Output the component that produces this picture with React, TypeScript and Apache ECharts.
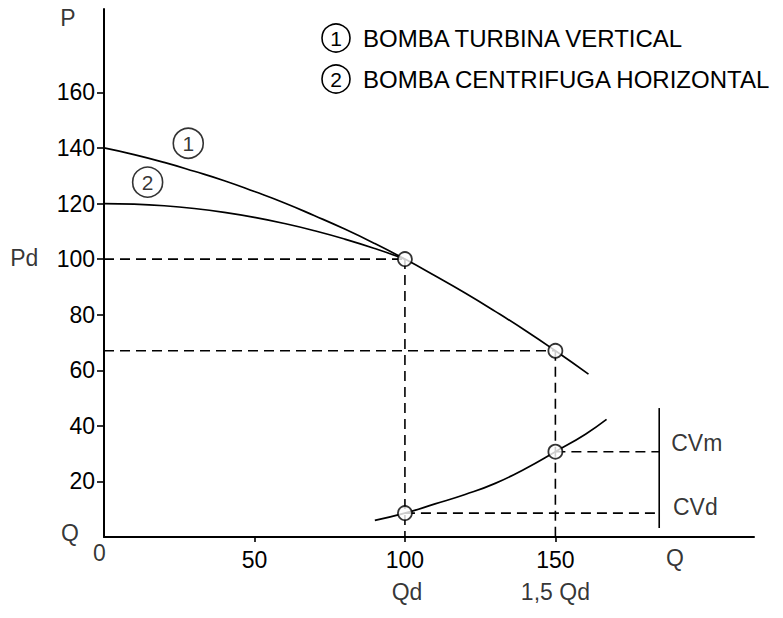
import React, { useEffect, useRef } from "react";
import * as echarts from "echarts";

const FONT = '"Liberation Sans", Arial, sans-serif';

// axis ticks
const xTicks = [50, 100, 150];
const yTicks = [20, 40, 60, 80, 100, 120, 140, 160];

// curve 1: bomba turbina vertical
const curve1Q = [0, 10, 20, 30, 40, 50, 60, 70, 80, 90, 100, 110, 120, 130, 140, 150, 161];
const curve1P = [140, 137.6, 134.8, 131.6, 128.2, 124.3, 120.2, 115.6, 110.8, 105.6, 100, 94, 87.8, 81.2, 74.3, 67, 58.6];

// curve 2: bomba centrifuga horizontal
const curve2Q = [0, 10, 20, 30, 40, 50, 60, 70, 80, 90, 100];
const curve2P = [120, 119.8, 119.2, 118.2, 116.8, 115, 112.8, 110.2, 107.2, 103.8, 100];

// lower curve (CV)
const cvQ = [90, 100, 110, 120, 130, 140, 150, 160, 167];
const cvP = [6, 8.6, 11.9, 15.3, 19.3, 24.6, 30.7, 37, 42.3];

// operating points
const pointQ = [100, 150, 100, 150];
const pointP = [100, 67, 8.6, 30.7];

// dashed guides [q1, p1, q2, p2]
const guides = [
  [0, 100, 100, 100],
  [100, 100, 100, 0],
  [0, 67, 150, 67],
  [150, 67, 150, 0],
  [150, 30.7, 184.5, 30.7],
  [100, 8.6, 184.5, 8.6],
];

// CV bracket
const bracket = [184.5, 46.4, 184.5, 3.2];

// curve number labels
const curveLabelNames = ["1", "2"];
const curveLabelQ = [28, 14.5];
const curveLabelP = [141.7, 127.7];

// text annotations
const annoText = ["P", "Pd", "Q", "0", "Q", "Qd", "1,5 Qd", "CVm", "CVd"];
const annoQ = [-12, -26.5, -11.3, -1.5, 189.7, 100.7, 150, 197, 196.5];
const annoP = [186.7, 100.4, 1.6, -5.8, -7.6, -19.8, -19.8, 33.8, 10.8];

const legendNames = ["BOMBA TURBINA VERTICAL", "BOMBA CENTRIFUGA HORIZONTAL"];

const zip = (a: number[], b: number[]) => a.map((v, i) => [v, b[i]]);

export default function App() {
  const ref = useRef<HTMLDivElement>(null);
  useEffect(() => {
    if (!ref.current) return;
    const chart = echarts.init(ref.current, undefined, { renderer: "svg" });
    const black = "#000";
    const series: any[] = [];
    series.push({
      type: "line", data: zip(curve1Q, curve1P), smooth: true, symbol: "none",
      lineStyle: { color: black, width: 1.7 }, z: 3,
    });
    series.push({
      type: "line", data: zip(curve2Q, curve2P), smooth: true, symbol: "none",
      lineStyle: { color: black, width: 1.7 }, z: 3,
    });
    series.push({
      type: "line", data: zip(cvQ, cvP), smooth: true, symbol: "none",
      lineStyle: { color: black, width: 1.7 }, z: 3,
    });
    guides.forEach((g) => {
      series.push({
        type: "line", data: [[g[0], g[1]], [g[2], g[3]]], symbol: "none",
        lineStyle: { color: black, width: 1.6, type: [10, 6] }, z: 2,
      });
    });
    series.push({
      type: "line", data: [[bracket[0], bracket[1]], [bracket[2], bracket[3]]], symbol: "none",
      lineStyle: { color: black, width: 1.6 }, z: 2,
    });
    series.push({
      type: "scatter", data: zip(pointQ, pointP), symbol: "circle", symbolSize: 14,
      itemStyle: { color: "#fff", borderColor: black, borderWidth: 1.8 }, z: 5,
    });
    series.push({
      type: "scatter", clip: false,
      data: curveLabelNames.map((n, i) => [curveLabelQ[i], curveLabelP[i], n]),
      symbol: "circle", symbolSize: 30,
      itemStyle: { color: "rgba(255,255,255,0)", borderColor: black, borderWidth: 1.6 },
      label: {
        show: true, position: "inside", color: black, fontFamily: FONT, fontSize: 21,
        formatter: (p: any) => p.data[2],
      },
      z: 4,
    });
    series.push({
      type: "scatter", clip: false,
      data: annoText.map((t, i) => [annoQ[i], annoP[i], t]),
      symbol: "circle", symbolSize: 1,
      itemStyle: { color: "rgba(0,0,0,0)" },
      label: {
        show: true, position: "inside", color: black, fontFamily: FONT, fontSize: 23,
        formatter: (p: any) => p.data[2],
      },
      z: 4,
    });

    const legendY = [38, 79];
    const graphic: any[] = [];
    legendNames.forEach((name, i) => {
      graphic.push({
        type: "circle", shape: { cx: 336, cy: legendY[i], r: 14 },
        style: { fill: "none", stroke: black, lineWidth: 1.6 },
      });
      graphic.push({
        type: "text", x: 336, y: legendY[i],
        style: { text: String(i + 1), fontFamily: FONT, fontSize: 21, fill: black, align: "center", verticalAlign: "middle" },
      });
      graphic.push({
        type: "text", x: 363, y: legendY[i],
        style: { text: name, fontFamily: FONT, fontSize: 24, fill: black, align: "left", verticalAlign: "middle" },
      });
    });

    chart.setOption({
      animation: false,
      backgroundColor: "#fff",
      grid: { left: 104, right: 29, top: 9, bottom: 81, containLabel: false },
      xAxis: {
        type: "value", min: 0, max: 216,
        splitLine: { show: false },
        axisLine: { show: true, onZero: false, lineStyle: { color: black, width: 2 } },
        axisTick: { show: true, customValues: xTicks, length: 5, lineStyle: { color: black, width: 1.6 } },
        axisLabel: { show: true, customValues: xTicks, margin: 11, color: black, fontFamily: FONT, fontSize: 23 },
      },
      yAxis: {
        type: "value", min: 0, max: 190,
        splitLine: { show: false },
        axisLine: { show: true, onZero: false, lineStyle: { color: black, width: 2 } },
        axisTick: { show: true, customValues: yTicks, length: 7, lineStyle: { color: black, width: 1.6 } },
        axisLabel: { show: true, customValues: yTicks, margin: 9, color: black, fontFamily: FONT, fontSize: 23 },
      },
      graphic,
      series,
    });
    return () => chart.dispose();
  }, []);
  return (
    <div
      ref={ref}
      style={{ position: "fixed", left: 0, top: 0, width: 783, height: 618, background: "#fff" }}
    />
  );
}
